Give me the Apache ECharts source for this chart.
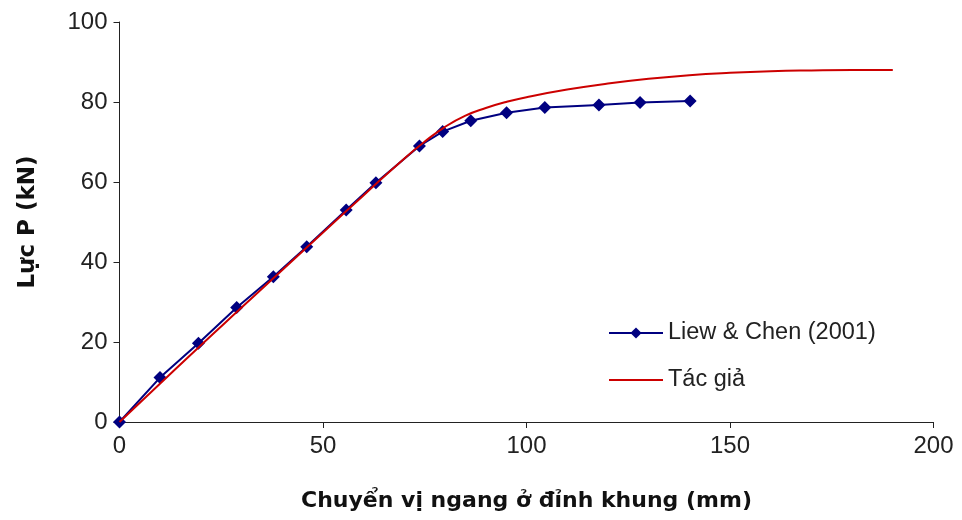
<!DOCTYPE html>
<html>
<head>
<meta charset="utf-8">
<script src="https://cdn.jsdelivr.net/npm/echarts@6/dist/echarts.min.js"></script>
<style>html,body{margin:0;padding:0;background:#fff}#c{width:962px;height:520px}</style>
</head>
<body>
<div id="c"></div>
<script>
var liewX = [0, 9.95, 19.4, 28.8, 37.8, 46.0, 55.7, 63.0, 73.7, 79.4, 86.3, 95.1, 104.5, 117.8, 127.9, 140.2];
var liewY = [0, 11.1, 19.7, 28.6, 36.3, 43.8, 53.0, 59.8, 69.0, 72.6, 75.3, 77.3, 78.6, 79.25, 79.9, 80.25];
var tacX = [0, 10, 20, 30, 40, 50, 60, 70, 75, 80, 85, 90, 95, 100, 110, 120, 130, 140, 150, 160, 170, 180, 190];
var tacY = [0, 9.6, 19.2, 28.6, 38.0, 47.4, 56.7, 65.9, 70.1, 73.8, 76.6, 78.5, 80.0, 81.2, 83.1, 84.6, 85.8, 86.7, 87.3, 87.7, 87.9, 88.0, 88.0];
var xTicks = [0, 50, 100, 150, 200];
var yTicks = [0, 20, 40, 60, 80, 100];
var seriesNames = ['Liew & Chen (2001)', 'Tác giả'];

function pairs(xs, ys) { return xs.map(function (x, i) { return [x, ys[i]]; }); }

var font = 'Liberation Sans, Arial, sans-serif';
var titleFont = 'DejaVu Sans, Liberation Sans, sans-serif';
var chart = echarts.init(document.getElementById('c'), null, { renderer: 'canvas' });
chart.setOption({
  animation: false,
  backgroundColor: '#fff',
  grid: { left: 119.5, right: 28.5, top: 22, bottom: 98, containLabel: false },
  legend: {
    orient: 'vertical',
    left: 603, top: 316,
    itemWidth: 54, itemHeight: 14, itemGap: 23,
    textStyle: { fontFamily: font, fontSize: 23.5, color: '#222' },
    data: [
      { name: seriesNames[0] },
      { name: seriesNames[1], itemStyle: { color: 'rgba(0,0,0,0)', borderWidth: 0, opacity: 0 } }
    ]
  },
  xAxis: {
    type: 'value', min: 0, max: 200, interval: 50,
    name: 'Chuyển vị ngang ở đỉnh khung (mm)', nameLocation: 'middle', nameGap: 68,
    nameTextStyle: { fontFamily: titleFont, fontSize: 22, fontWeight: 'bold', color: '#111' },
    axisLine: { lineStyle: { color: '#222', width: 1 } },
    axisTick: { show: true, inside: false, length: 6, lineStyle: { color: '#222' } },
    axisLabel: { fontFamily: font, fontSize: 24, color: '#222', margin: 12,
      formatter: function (v) { return xTicks.indexOf(v) >= 0 ? String(v) : ''; } },
    splitLine: { show: false }
  },
  yAxis: {
    type: 'value', min: 0, max: 100, interval: 20,
    name: 'Lực P (kN)', nameLocation: 'middle', nameGap: 80, nameRotate: 90,
    nameTextStyle: { fontFamily: titleFont, fontSize: 23, fontWeight: 'bold', color: '#111' },
    axisLine: { show: true, lineStyle: { color: '#222', width: 1 } },
    axisTick: { show: true, inside: false, length: 6, lineStyle: { color: '#222' } },
    axisLabel: { fontFamily: font, fontSize: 24, color: '#222', margin: 12,
      formatter: function (v) { return yTicks.indexOf(v) >= 0 ? String(v) : ''; } },
    splitLine: { show: false }
  },
  series: [
    {
      name: seriesNames[0], type: 'line', data: pairs(liewX, liewY),
      symbol: 'diamond', symbolSize: 13,
      lineStyle: { color: '#000080', width: 2 },
      itemStyle: { color: '#000080' },
      z: 2
    },
    {
      name: seriesNames[1], type: 'line', data: pairs(tacX, tacY),
      smooth: true, symbol: 'none',
      lineStyle: { color: '#CC0000', width: 2 },
      itemStyle: { color: '#CC0000' },
      z: 3
    }
  ]
});
</script>
</body>
</html>
